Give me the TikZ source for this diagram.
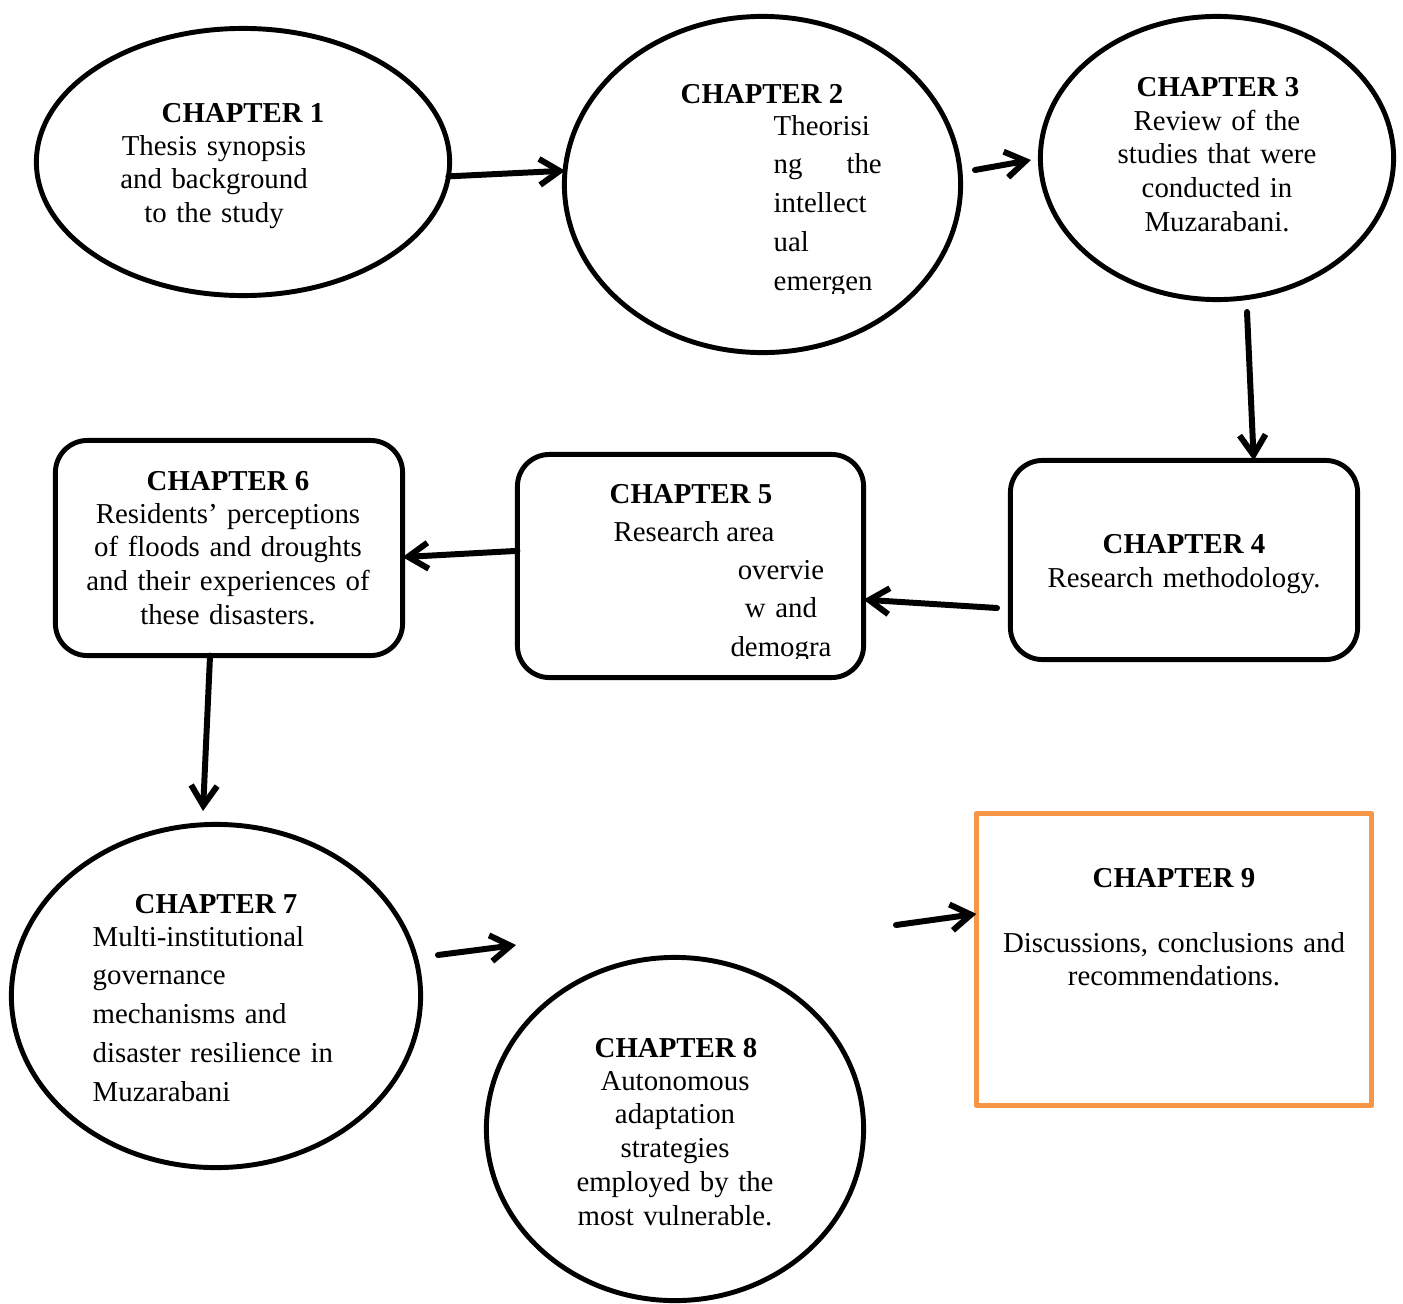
\documentclass[tikz,border=0pt]{standalone}
\usepackage{fontspec}
\setmainfont{Liberation Serif}
\usetikzlibrary{shapes.geometric,arrows.meta}
\definecolor{chorange}{RGB}{247,150,70}

\begin{document}
\begin{tikzpicture}[line cap=round,line join=round,x=0.01cm,y=-0.01cm,
    oval/.style={ellipse,draw,line width=1.4pt,inner sep=0pt,outer sep=0pt},
    card/.style={rectangle,rounded corners=0.32cm,draw,line width=1.4pt,inner sep=0pt,outer sep=0pt},
    head/.style={font=\fontsize{8.2}{9.64}\selectfont\bfseries,anchor=base,inner sep=0pt},
    body/.style={font=\fontsize{8.2}{9.64}\selectfont,anchor=base,inner sep=0pt,text width=3.6cm,align=center},
    wide/.style={font=\fontsize{8.2}{11.06}\selectfont,anchor=base,inner sep=0pt},
    link/.style={line width=1.7pt,-{Straight Barb[length=2mm,width=2.6mm]}}]
  \useasboundingbox (0,0) rectangle (1403,1303);
  \node[oval,minimum width=4.13cm,minimum height=2.67cm] (ch1) at (243,162) {};
  \node[oval,minimum width=3.96cm,minimum height=3.36cm] (ch2) at (762.5,184.5) {};
  \node[oval,minimum width=3.53cm,minimum height=2.83cm] (ch3) at (1217,158) {};
  \node[card,minimum width=3.47cm,minimum height=1.99cm] (ch4) at (1184,560) {};
  \node[card,minimum width=3.46cm,minimum height=2.23cm] (ch5) at (690.5,566) {};
  \node[card,minimum width=3.47cm,minimum height=2.15cm] (ch6) at (229,548) {};
  \node[oval,minimum width=4.09cm,minimum height=3.43cm] (ch7) at (216,996) {};
  \node[oval,minimum width=3.77cm,minimum height=3.43cm] (ch8) at (675,1129) {};
  \node[rectangle,draw=chorange,line width=1.4pt,inner sep=0pt,outer sep=0pt,
    minimum width=3.95cm,minimum height=2.92cm] (ch9) at (1174,959.5) {};

  \node[head] (h1) at (243,122) {CHAPTER 1};
  \node[body] (b1) at (214,155) {Thesis synopsis\\and background\\to the study};
  \node[head] (h2) at (762,103) {CHAPTER 2};
  \begin{scope}
    \clip (700,110) rectangle (950,293);
    \node[wide,anchor=base west,text width=1.08cm,align=left] (b2) at (773,135)
      {Theorisi\\ng\hfill the\\intellect\\ual\\emergen};
  \end{scope}
  \node[head] (h3) at (1218,97) {CHAPTER 3};
  \node[body] (b3) at (1217,130) {Review of the\\studies that were\\conducted in\\Muzarabani.};
  \node[head] (h4) at (1184,553) {CHAPTER 4};
  \node[body] (b4) at (1184,587) {Research methodology.};
  \node[head] (h5) at (691,503) {CHAPTER 5};
  \node[wide] (b5) at (694,541) {Research area};
  \begin{scope}
    \clip (700,550) rectangle (860,658);
    \node[wide,text width=1.2cm,align=center] (c5) at (781,579) {overvie\\w and\\demogra};
  \end{scope}
  \node[head] (h6) at (228,490) {CHAPTER 6};
  \node[body] (b6) at (228,523) {Residents’ perceptions\\of floods and droughts\\and their experiences of\\these disasters.};
  \node[head] (h7) at (216,913) {CHAPTER 7};
  \node[wide,anchor=base west,text width=3.2cm,align=left] (b7) at (92,946)
    {Multi-institutional\\governance\\mechanisms and\\disaster resilience in\\Muzarabani};
  \node[head] (h8) at (676,1057) {CHAPTER 8};
  \node[body] (b8) at (675,1090) {Autonomous\\adaptation\\strategies\\employed by the\\most vulnerable.};
  \node[head] (h9) at (1174,887) {CHAPTER 9};
  \node[body] (b9) at (1174,952) {Discussions, conclusions and\\recommendations.};

  \coordinate (s2) at (975,170);
  \coordinate (e2) at (1031,160);
  \coordinate (s3) at (1247,312);
  \coordinate (s4) at (997,608);
  \coordinate (e6) at (203,811);
  \coordinate (s7) at (438,955);
  \coordinate (e7) at (516,945);
  \coordinate (s8) at (896,925);
  \draw[link] (ch1.-4) -- (ch2.176);
  \draw[link] (s2) -- (e2);
  \draw[link] (s3) -- (ch4.55);
  \draw[link] (s4) -- (ch5.-11);
  \draw[link] (ch5.175) -- (ch6.-3);
  \draw[link] (ch6.-100) -- (e6);
  \draw[link] (s7) -- (e7);
  \draw[link] (s8) -- (ch9.167);
\end{tikzpicture}
\end{document}
